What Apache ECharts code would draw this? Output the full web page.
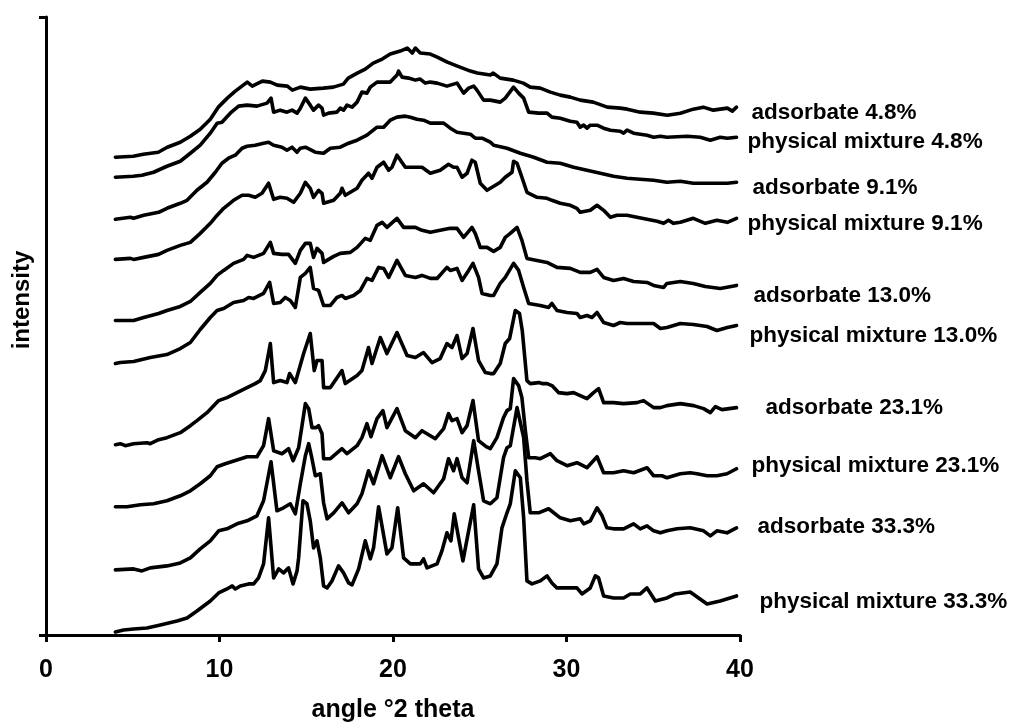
<!DOCTYPE html>
<html>
<head>
<meta charset="utf-8">
<title>XRD patterns</title>
<script src="https://cdn.jsdelivr.net/npm/echarts@6/dist/echarts.min.js"></script>
<style>
  html, body { margin: 0; padding: 0; background: #fff; }
  #chart { width: 1011px; height: 726px; }
</style>
</head>
<body>
<div id="chart"></div>
<script>
// diffractograms: [angle °2θ, intensity (arbitrary, stacked)]
const ads48 = [[4,477],[5.03,478],[5.61,480],[6.47,482],[6.99,487],[7.74,492],[8.32,498],[8.89,505],[9.47,515],[9.93,527],[10.45,536],[10.91,543],[11.37,549],[11.6,552],[11.89,548],[12.47,553],[12.93,552],[13.33,549],[13.91,548],[14.2,544],[14.66,547],[15.23,545],[15.98,546],[16.56,547],[17.14,550],[17.42,556],[17.94,561],[18.4,565],[18.86,571],[19.38,575],[19.84,580],[20.42,583],[20.82,586],[21.11,581],[21.29,586],[21.57,581],[22.15,580],[22.55,577],[23.13,572],[23.71,568],[24.46,563],[24.86,561],[25.61,559],[25.78,561],[26.18,556],[26.93,554],[27.51,551],[27.91,547],[28.49,546],[29.07,542],[29.64,539],[30.22,537],[30.79,534],[31.54,532],[32.35,527],[33.1,526],[33.5,525],[34.25,522],[35.0,521],[35.81,519],[36.56,521],[37.31,525],[37.88,527],[38.46,524],[39.27,526],[39.56,523],[39.8,527]];
const pm48 = [[4,457],[5.03,458],[5.53,459],[6.2,462],[6.97,468],[7.74,473],[8.32,481],[8.89,489],[9.47,501],[9.86,511],[10.14,512],[10.62,521],[11.1,528],[11.59,529],[12.16,528],[12.74,531],[12.97,536],[13.12,522],[13.5,524],[13.89,522],[14.18,524],[14.47,521],[14.66,526],[14.95,536],[15.23,529],[15.42,524],[15.71,529],[15.91,526],[16.0,519],[16.29,521],[16.77,522],[16.96,526],[17.15,524],[17.35,529],[17.64,527],[17.93,532],[18.21,542],[18.5,541],[18.69,547],[19.08,552],[19.84,552],[20.23,559],[20.32,563],[20.52,557],[20.9,556],[21.29,554],[21.57,555],[21.86,551],[22.15,552],[22.54,551],[23.11,548],[23.69,551],[23.88,546],[24.07,541],[24.36,546],[24.65,548],[24.84,544],[25.22,534],[25.61,534],[26.18,532],[26.47,536],[26.95,547],[27.24,541],[27.53,536],[27.82,522],[28.39,521],[28.88,521],[29.16,517],[29.64,516],[30.22,513],[30.6,512],[30.79,507],[30.99,509],[31.18,506],[31.37,509],[31.76,509],[32.14,506],[32.53,504],[33.1,503],[33.29,501],[33.49,504],[33.87,501],[34.64,499],[35.02,497],[35.41,498],[35.79,497],[36.96,498],[37.71,497],[38.29,494],[38.86,497],[39.27,496],[39.8,497]];
const ads91 = [[4,415],[4.86,417],[5.05,416],[5.63,419],[6.49,422],[6.97,426],[7.74,431],[8.13,434],[8.7,444],[9.28,452],[9.76,462],[10.14,471],[10.52,476],[10.91,479],[11.3,486],[11.59,488],[12.06,489],[12.54,491],[12.83,492],[13.12,489],[13.6,487],[13.89,484],[14.18,487],[14.47,482],[14.66,486],[14.95,487],[15.52,482],[16.0,481],[16.39,486],[16.96,487],[17.44,491],[17.93,494],[18.5,499],[19.08,507],[19.46,507],[19.84,514],[20.23,517],[20.71,518],[21.0,517],[21.38,515],[21.76,514],[22.15,511],[22.92,511],[23.3,506],[23.69,502],[24.46,500],[24.74,496],[25.13,496],[25.61,492],[25.8,489],[26.57,486],[27.34,481],[28.11,477],[28.88,472],[29.64,471],[30.41,467],[31.18,464],[31.95,461],[32.71,458],[33.49,456],[34.25,455],[35.02,454],[35.79,452],[36.56,453],[37.31,451],[38.29,451],[39.27,451],[39.8,452]];
const pm91 = [[4,375],[4.86,376],[5.05,375],[5.63,377],[6.49,380],[6.97,384],[7.74,389],[8.32,392],[8.89,401],[9.47,411],[9.76,417],[10.24,426],[10.81,434],[11.3,439],[11.68,439],[12.06,437],[12.45,441],[12.83,451],[13.12,435],[13.5,437],[13.89,436],[14.27,432],[14.66,441],[14.95,452],[15.23,446],[15.42,437],[15.71,444],[15.91,441],[16.0,431],[16.58,434],[16.96,441],[17.06,446],[17.25,439],[17.93,446],[18.21,454],[18.59,461],[18.79,456],[19.08,467],[19.46,472],[19.75,464],[19.94,467],[20.23,479],[20.71,467],[21.38,467],[21.67,467],[22.15,461],[22.72,464],[23.2,470],[23.49,467],[23.69,467],[23.98,457],[24.27,461],[24.55,474],[24.74,472],[25.03,451],[25.42,444],[25.9,449],[26.18,452],[26.47,457],[26.86,462],[26.95,473],[27.15,471],[27.43,457],[27.72,442],[28.3,437],[28.88,436],[29.16,434],[29.64,431],[30.22,429],[30.6,426],[30.79,422],[31.37,424],[31.76,429],[32.14,424],[32.53,417],[32.91,419],[33.49,419],[34.06,417],[34.64,415],[35.22,413],[35.6,411],[35.88,414],[36.17,411],[36.56,412],[37.31,416],[38.0,411],[38.67,414],[39.27,412],[39.8,416]];
const ads130 = [[4,314],[5.05,314],[5.63,317],[6.49,321],[6.97,324],[7.74,328],[8.32,333],[8.89,342],[9.47,351],[9.86,359],[10.24,364],[10.81,371],[11.39,375],[11.59,379],[11.97,377],[12.54,381],[12.93,392],[13.12,381],[13.6,380],[13.98,380],[14.37,371],[14.66,384],[14.95,391],[15.23,391],[15.42,377],[15.62,386],[15.91,381],[16.0,372],[16.58,378],[16.96,381],[17.54,382],[17.93,387],[18.4,396],[18.69,394],[19.08,409],[19.37,412],[19.65,407],[20.23,416],[20.61,407],[21.29,407],[21.67,404],[22.15,402],[22.72,404],[23.3,406],[23.69,406],[24.07,397],[24.55,407],[24.74,401],[25.03,387],[25.42,387],[25.8,383],[26.18,387],[26.47,397],[26.76,401],[27.15,407],[27.43,394],[27.72,376],[28.3,374],[28.88,372],[29.45,367],[30.22,366],[30.79,362],[31.37,362],[31.76,365],[32.14,357],[32.71,354],[33.29,356],[33.87,353],[34.64,352],[35.02,349],[35.6,347],[35.79,351],[36.56,353],[37.31,351],[38.0,348],[38.86,346],[39.8,349]];
const pm130 = [[4,271],[4.28,272],[5.05,273],[6.01,277],[6.97,280],[7.74,286],[8.32,292],[8.89,305],[9.47,317],[9.86,324],[10.24,326],[10.81,332],[11.39,334],[11.68,337],[11.97,336],[12.54,341],[12.89,352],[13.12,331],[13.5,332],[13.79,337],[14.08,334],[14.37,327],[14.66,357],[14.95,361],[15.23,367],[15.42,346],[15.71,344],[16.0,329],[16.39,329],[16.77,337],[17.06,339],[17.25,336],[17.73,339],[18.12,344],[18.5,356],[18.79,354],[19.17,367],[19.46,366],[19.75,357],[20.23,374],[20.71,359],[21.29,357],[21.67,359],[22.15,356],[22.54,356],[23.11,367],[23.3,364],[23.69,366],[23.98,354],[24.36,364],[24.61,371],[24.93,357],[25.13,341],[25.61,339],[25.8,339],[26.18,351],[26.47,357],[26.95,371],[27.24,364],[27.53,347],[27.82,331],[28.49,329],[28.97,327],[29.16,331],[29.45,324],[30.03,322],[30.6,321],[30.79,317],[31.18,319],[31.47,317],[31.76,322],[32.14,312],[32.71,309],[33.1,312],[33.49,311],[34.06,311],[34.64,311],[35.02,311],[35.41,306],[35.79,307],[36.56,311],[37.31,310],[38.1,308],[38.67,304],[39.27,307],[39.8,309]];
const ads231 = [[4,190],[4.28,191],[4.57,189],[5.05,191],[5.82,192],[6.01,191],[6.49,195],[6.97,197],[7.74,202],[8.32,209],[8.7,214],[9.28,222],[9.95,234],[10.43,237],[11.01,242],[11.59,247],[12.06,251],[12.35,254],[12.64,264],[12.93,291],[13.12,252],[13.5,254],[13.89,252],[14.04,261],[14.37,252],[14.85,281],[15.23,301],[15.46,264],[15.62,274],[15.91,274],[16.0,247],[16.39,247],[17.06,264],[17.25,251],[17.93,259],[18.21,264],[18.59,287],[18.79,271],[19.27,297],[19.65,281],[20.23,302],[20.81,279],[21.29,277],[21.76,282],[22.25,272],[22.72,276],[23.11,291],[23.4,287],[23.69,299],[23.98,276],[24.27,281],[24.61,306],[24.93,274],[25.32,262],[25.61,261],[25.8,261],[26.18,271],[26.47,291],[26.72,296],[27.05,324],[27.29,321],[27.45,304],[27.72,254],[27.91,251],[28.39,252],[28.59,251],[28.88,251],[29.16,249],[29.54,242],[30.03,241],[30.41,242],[30.79,239],[31.18,236],[31.56,242],[31.85,246],[32.14,232],[32.71,232],[33.29,231],[34.06,232],[34.44,234],[35.02,227],[35.41,227],[35.79,229],[36.56,231],[37.33,229],[37.9,226],[38.29,222],[38.58,228],[38.96,225],[39.8,227]];
const pm231 = [[4,128],[4.67,128],[5.44,130],[6.2,131],[6.97,134],[7.74,139],[8.32,144],[8.89,151],[9.47,159],[9.86,168],[10.33,171],[11.59,178],[12.16,178],[12.54,189],[12.83,216],[13.12,184],[13.6,181],[13.98,186],[14.24,174],[14.56,187],[14.95,231],[15.14,226],[15.33,207],[15.58,207],[15.71,209],[15.91,201],[16.0,176],[16.39,176],[17.06,186],[17.35,181],[17.93,189],[18.21,197],[18.5,211],[18.73,198],[19.08,216],[19.42,224],[19.65,207],[20.23,226],[20.71,204],[21.29,197],[21.67,204],[22.15,199],[22.44,196],[22.92,206],[23.2,221],[23.4,214],[23.69,216],[23.98,202],[24.27,209],[24.61,234],[24.93,194],[25.37,188],[25.61,186],[25.99,197],[26.37,217],[26.57,224],[26.76,226],[26.95,256],[27.24,249],[27.43,237],[27.63,204],[27.82,177],[28.2,177],[28.49,176],[29.07,181],[29.45,174],[30.03,169],[30.6,172],[31.18,167],[31.76,178],[32.14,162],[32.71,162],[33.29,164],[33.87,162],[34.64,167],[35.02,159],[35.5,159],[35.79,157],[36.56,161],[37.13,162],[37.52,161],[38.1,159],[38.67,159],[39.25,161],[39.8,166]];
const ads333 = [[4,65],[5.05,66],[5.53,64],[6.01,67],[6.97,69],[7.74,72],[8.32,77],[8.89,86],[9.47,94],[9.95,104],[10.43,106],[11.01,111],[11.59,114],[12.16,119],[12.54,134],[12.97,173],[13.31,124],[13.69,127],[14.08,131],[14.37,121],[14.66,151],[14.95,179],[15.14,191],[15.33,176],[15.52,159],[15.81,161],[16.0,132],[16.2,116],[16.58,122],[17.06,132],[17.44,122],[17.93,131],[18.21,141],[18.59,164],[18.88,151],[19.37,179],[19.84,157],[20.32,178],[20.71,161],[21.19,144],[21.76,151],[22.34,142],[22.92,156],[23.2,176],[23.49,164],[23.69,176],[23.98,157],[24.27,152],[24.65,194],[24.93,164],[25.22,134],[25.61,131],[25.99,137],[26.37,177],[26.57,187],[26.76,189],[27.15,227],[27.53,197],[27.72,154],[27.91,122],[28.39,122],[28.97,126],[29.64,117],[30.22,114],[30.79,116],[30.99,111],[31.37,114],[31.76,127],[32.05,119],[32.33,107],[32.71,106],[33.29,106],[33.87,111],[34.25,106],[34.64,109],[35.02,104],[35.41,102],[35.79,104],[36.37,106],[37.13,107],[37.9,104],[38.29,99],[38.67,104],[39.25,102],[39.8,107]];
const pm333 = [[4,3],[4.47,5],[5.05,6],[5.82,7],[6.59,10],[7.55,14],[8.13,17],[8.7,24],[9.47,34],[9.95,42],[10.43,46],[10.72,49],[10.91,46],[11.2,49],[11.68,51],[11.97,51],[12.25,57],[12.54,71],[12.83,117],[13.12,57],[13.41,66],[13.69,62],[13.98,67],[14.24,51],[14.47,64],[14.56,77],[14.81,134],[15.04,131],[15.23,114],[15.42,87],[15.62,94],[15.81,77],[16.0,49],[16.2,47],[16.48,54],[16.86,69],[17.15,62],[17.44,52],[17.64,50],[18.02,66],[18.4,94],[18.69,76],[18.88,87],[19.17,128],[19.65,81],[19.94,87],[20.27,127],[20.61,77],[21.0,71],[21.57,71],[21.76,76],[21.96,67],[22.54,71],[22.82,84],[23.11,102],[23.34,94],[23.53,121],[23.78,97],[24.03,74],[24.36,104],[24.65,130],[24.93,66],[25.22,57],[25.61,59],[25.99,71],[26.28,107],[26.57,122],[26.76,131],[27.05,164],[27.34,157],[27.53,117],[27.72,54],[28.01,51],[28.49,54],[28.88,59],[29.16,52],[29.45,47],[30.03,47],[30.6,47],[30.89,41],[31.37,47],[31.66,59],[31.85,57],[32.14,39],[32.71,37],[33.29,37],[33.68,41],[34.25,41],[34.64,47],[35.12,34],[35.79,37],[36.27,41],[37.13,43],[38.1,31],[38.86,34],[39.8,39]];

const seriesNames = ['adsorbate 4.8%', 'physical mixture 4.8%', 'adsorbate 9.1%', 'physical mixture 9.1%', 'adsorbate 13.0%', 'physical mixture 13.0%', 'adsorbate 23.1%', 'physical mixture 23.1%', 'adsorbate 33.3%', 'physical mixture 33.3%'];
const seriesData = [ads48, pm48, ads91, pm91, ads130, pm130, ads231, pm231, ads333, pm333];
const xTicks = [0, 10, 20, 30, 40];

// label nudges so the names sit where the original put them
const labelOffsets = [[15, 6], [11, 5], [16, 6], [11, 5], [17, 10], [13, 10], [29, 0], [15, -3], [21, -1], [23, 6]];

const font = "'Liberation Sans', Arial, sans-serif";
const chart = echarts.init(document.getElementById('chart'), null, { renderer: 'canvas' });

chart.setOption({
  animation: false,
  backgroundColor: '#fff',
  grid: { left: 46, right: 271, top: 17, bottom: 91, containLabel: false, outerBoundsMode: 'none' },
  xAxis: {
    type: 'value',
    min: xTicks[0],
    max: xTicks[xTicks.length - 1],
    interval: 10,
    name: 'angle °2 theta',
    nameLocation: 'middle',
    nameGap: 63,
    nameTextStyle: { fontFamily: font, fontWeight: 'bold', fontSize: 25, color: '#000' },
    axisLine: { lineStyle: { color: '#000', width: 3 } },
    axisTick: { length: 7, lineStyle: { color: '#000', width: 3 } },
    axisLabel: { margin: 23, fontFamily: font, fontWeight: 'bold', fontSize: 25, color: '#000' },
    splitLine: { show: false },
  },
  yAxis: {
    type: 'value',
    min: 0,
    max: 617,
    interval: 617,
    name: 'intensity',
    nameLocation: 'middle',
    nameGap: 12,
    nameTextStyle: { fontFamily: font, fontWeight: 'bold', fontSize: 24, color: '#000', padding: [0, 0, 0, 52] },
    axisLine: { show: true, lineStyle: { color: '#000', width: 3 } },
    axisTick: { show: true, length: 7, lineStyle: { color: '#000', width: 3 } },
    axisLabel: { show: false },
    splitLine: { show: false },
  },
  series: seriesData.map((data, i) => ({
    name: seriesNames[i],
    type: 'line',
    data,
    showSymbol: false,
    symbol: 'none',
    silent: true,
    lineStyle: { color: '#000', width: 3.6, join: 'round', cap: 'round' },
    endLabel: {
      show: true,
      formatter: seriesNames[i],
      distance: 0,
      offset: labelOffsets[i],
      fontFamily: font,
      fontWeight: 'bold',
      fontSize: 22.5,
      color: '#000',
    },
  })),
});
</script>
</body>
</html>
